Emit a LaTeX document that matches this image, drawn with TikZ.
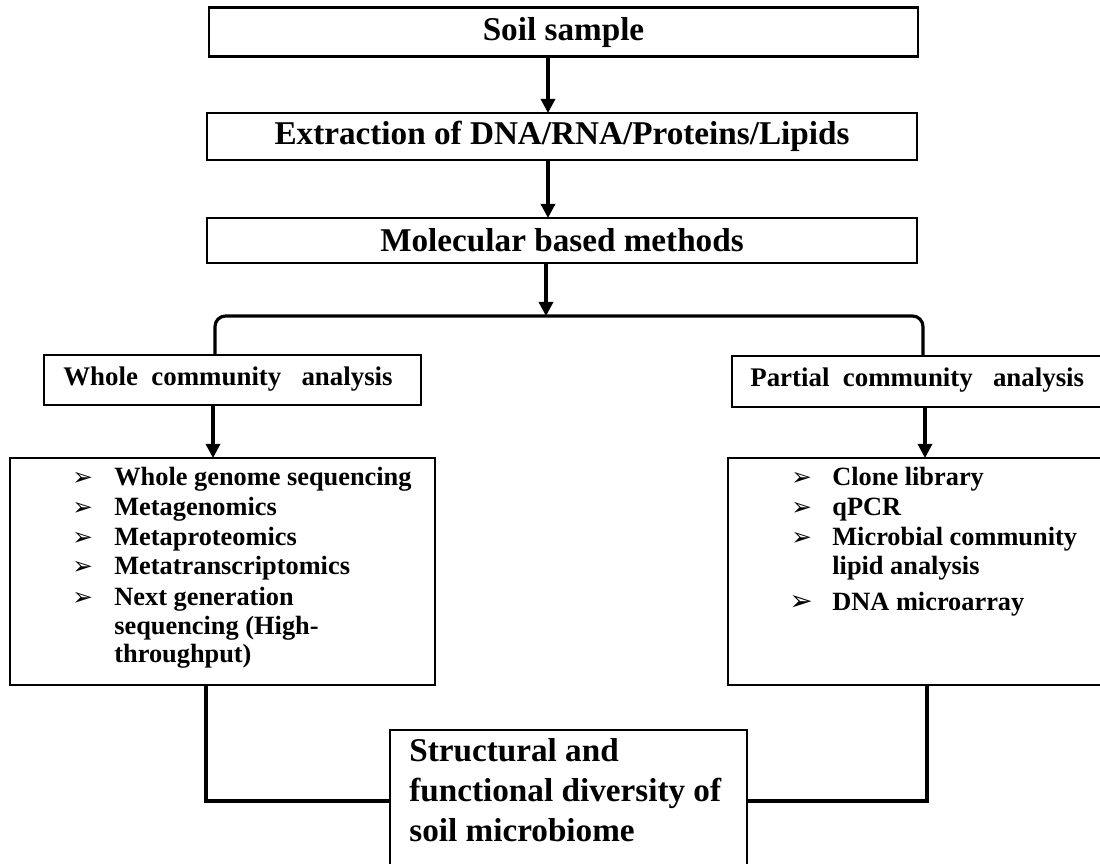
\documentclass[tikz,border=0pt]{standalone}
\usepackage{fontspec}
\setmainfont{Liberation Serif}
\newfontfamily\symfont{DejaVu Sans}
\usetikzlibrary{arrows.meta}
\newcommand\pbx[6]{\node[box,minimum width={(#4-#2)*0.02cm},minimum height={(#5-#3)*0.02cm}] (#1) at (#2,#3) {#6};}
\begin{document}
\begin{tikzpicture}[x=0.02cm,y=-0.02cm,
  box/.style={draw,line width=1.7pt,inner sep=0pt,outer sep=0pt,anchor=north west,fill=white},
  head/.style={font=\bfseries\fontsize{18.9}{22.7}\selectfont},
  sub/.style={font=\bfseries\fontsize{15.3}{18}\selectfont,anchor=base west,inner sep=0pt},
  item/.style={font=\bfseries\fontsize{15}{18}\selectfont,anchor=base west,inner sep=0pt},
  bul/.style={font=\symfont\fontsize{14}{16}\selectfont,anchor=base west,inner sep=0pt},
  res/.style={font=\bfseries\fontsize{18.9}{22.7}\selectfont,anchor=base west,inner sep=0pt},
  conn/.style={line width=1.8pt},
  arr/.style={line width=1.8pt,-{Triangle[width=8pt,length=8pt]}}]
\useasboundingbox (0,0) rectangle (1100,864);
\fill[white] (0,0) rectangle (1100,864);
\clip (0,0) rectangle (1100,864);
% top boxes
\pbx{soil}{209}{8}{918}{57}{}
\node[head] (soilt) at (soil.center) {Soil sample};
\pbx{extr}{207}{113}{917}{160}{}
\node[head] (extrt) at (extr.center) {Extraction of DNA/RNA/Proteins/Lipids};
\pbx{mol}{207}{218}{917}{263}{}
\node[head] (molt) at (mol.center) {Molecular based methods};
% second level
\pbx{whole}{44}{355}{421}{405}{}
\node[sub] (wholet) at (63,386) {Whole\ \ community\ \ \ analysis};
\pbx{part}{732}{356}{1106}{407}{}
\node[sub] (partt) at (750,387) {Partial\ \ community\ \ \ analysis};
% lists
\pbx{wlist}{10}{458}{435}{685}{}
\node[bul] (wb1) at (72,486) {➢};
\node[item] (wl1) at (114,486) {Whole genome sequencing};
\node[bul] (wb2) at (72,516) {➢};
\node[item] (wl2) at (114,516) {Metagenomics};
\node[bul] (wb3) at (72,546) {➢};
\node[item] (wl3) at (114,546) {Metaproteomics};
\node[bul] (wb4) at (72,575) {➢};
\node[item] (wl4) at (114,575) {Metatranscriptomics};
\node[bul] (wb5) at (72,606) {➢};
\node[item] (wl5) at (114,606) {Next generation};
\node[item] (wl6) at (114,635) {sequencing (High-};
\node[item] (wl7) at (114,663) {throughput)};
\pbx{plist}{728}{458}{1106}{685}{}
\node[bul] (pb1) at (791,486) {➢};
\node[item] (pl1) at (832,486) {Clone library};
\node[bul] (pb2) at (791,516) {➢};
\node[item] (pl2) at (832,516) {qPCR};
\node[bul] (pb3) at (791,546) {➢};
\node[item] (pl3) at (832,546) {Microbial community};
\node[item] (pl4) at (832,575) {lipid analysis};
\node[bul,font=\symfont\fontsize{16}{18}\selectfont] (pb4) at (789,611) {➢};
\node[item] (pl5) at (832,611) {DNA microarray};
% result box
\pbx{res}{390}{730}{747}{872}{}
\node[res] (r1) at (409,762) {Structural and};
\node[res] (r2) at (409,802) {functional diversity of};
\node[res] (r3) at (409,842) {soil microbiome};
% connectors
\coordinate (ax) at (548,0);
\coordinate (mx) at (546,0);
\coordinate (bt) at (546,316);
\coordinate (bl) at (215,316);
\coordinate (br) at (923,316);
\coordinate (wx) at (213,0);
\coordinate (px) at (925,0);
\coordinate (lx) at (206,0);
\coordinate (rx) at (927,0);
\draw[arr] (soil.south -| ax) -- (extr.north -| ax);
\draw[arr] (extr.south -| ax) -- (mol.north -| ax);
\draw[arr] (mol.south -| mx) -- (bt);
\draw[conn,rounded corners=6] (whole.north -| bl) -- (bl) -- (br) -- (part.north -| br);
\draw[arr] (whole.south -| wx) -- (wlist.north -| wx);
\draw[arr] (part.south -| px) -- (plist.north -| px);
\draw[conn] (wlist.south -| lx) |- (res.west);
\draw[conn] (plist.south -| rx) |- (res.east);
\end{tikzpicture}
\end{document}
